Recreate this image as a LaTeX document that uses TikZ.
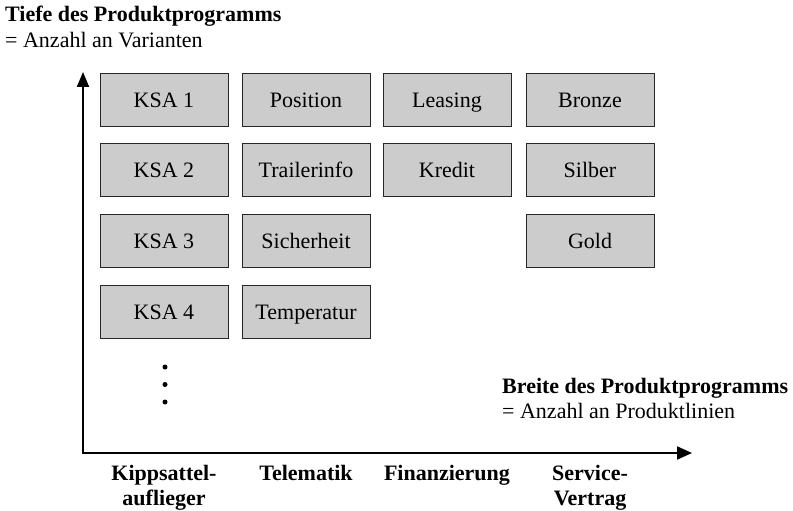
\documentclass[tikz,border=0pt]{standalone}
\usepackage{fontspec}
\setmainfont{Liberation Serif}
\usetikzlibrary{arrows.meta}
\definecolor{boxgray}{RGB}{204,204,204}

\tikzset{
    prodbox/.style={draw=black!85, fill=boxgray, line width=0.9pt, minimum width=128pt,
        minimum height=53pt, inner sep=0pt, text height=15pt, text depth=0pt,
        font=\fontsize{22}{25}\selectfont},
    axisline/.style={line width=2pt, line join=miter,
        {Triangle[length=15pt,width=12pt]}-{Triangle[length=15pt,width=13pt]}},
    caption/.style={inner sep=0pt, anchor=base west, font=\fontsize{22}{25}\selectfont},
    linelabel/.style={inner sep=0pt, anchor=north, align=center,
        font=\fontsize{22}{25}\selectfont\bfseries},
}

\begin{document}
\begin{tikzpicture}[x=1pt,y=-1pt]
    \useasboundingbox (0,0) rectangle (793,511);

    % Axes
    \coordinate (origin) at (83,453);
    \coordinate (ytop) at (83,72);
    \coordinate (xend) at (692,453);
    \draw[axisline] (ytop) -- (origin) -- (xend);

    % Axis captions
    \node[caption] (tiefe) at (5,22) {\bfseries Tiefe des Produktprogramms};
    \node[caption] (tiefesub) at (5,48) {= Anzahl an Varianten};
    \node[caption] (breite) at (502,393) {\bfseries Breite des Produktprogramms};
    \node[caption] (breitesub) at (502,418) {= Anzahl an Produktlinien};

    % Product lines
    \foreach \x/\name/\lbl in {164/lineKipp/{Kippsattel-\\auflieger}, 306/lineTele/Telematik,
                                447/lineFin/Finanzierung, 590/lineServ/{Service-\\Vertrag}} {
        \node[linelabel] (\name) at (\x,465) {\lbl};
    }

    % Kippsattelauflieger
    \foreach \r in {1,...,4} {
        \node[prodbox] (ksa\r) at (164,{99.5+70.8*(\r-1)}) {KSA \r};
    }
    % Telematik
    \foreach \r/\txt in {1/Position, 2/Trailerinfo, 3/Sicherheit, 4/Temperatur} {
        \node[prodbox] (tele\r) at (306,{99.5+70.8*(\r-1)}) {\txt};
    }
    % Finanzierung
    \foreach \r/\txt in {1/Leasing, 2/Kredit} {
        \node[prodbox] (fin\r) at (447,{99.5+70.8*(\r-1)}) {\txt};
    }
    % Service-Vertrag
    \foreach \r/\txt in {1/Bronze, 2/Silber, 3/Gold} {
        \node[prodbox] (serv\r) at (590,{99.5+70.8*(\r-1)}) {\txt};
    }

    % More variants
    \foreach \y in {367,384.5,402} {
        \fill (165,\y) circle (2.5pt);
    }
\end{tikzpicture}
\end{document}
